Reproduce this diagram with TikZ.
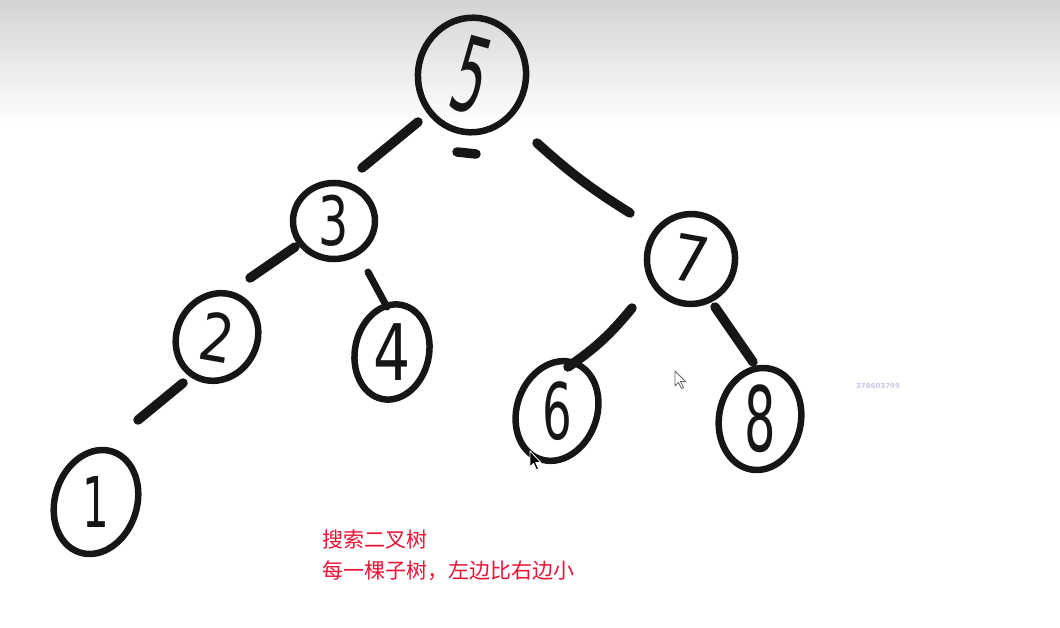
\documentclass[tikz,border=0pt]{standalone}
\usepackage{fontspec}
\setmainfont{DejaVu Sans}
\newfontfamily\cjk{Noto Sans CJK SC}
\usetikzlibrary{shapes.geometric,calc}
\definecolor{inkred}{RGB}{232,18,52}
\definecolor{ink}{RGB}{22,22,22}
\definecolor{wm}{RGB}{200,200,230}
\newcommand{\dg}[4]{\fontsize{#1}{#1}\selectfont\rotatebox{#4}{\scalebox{#2}[1]{#3}}}
\tikzset{
  tnode/.style={ellipse, draw=ink, line width=6.5pt, inner sep=0pt, text=ink},
  edge/.style={draw=ink, line width=9.5pt, line cap=round},
  note/.style={text=inkred, font=\cjk\fontsize{21}{21}\selectfont, anchor=base west, inner sep=0pt},
  cursor/.style={line width=0.8pt, line join=round}
}
\begin{document}
\begin{tikzpicture}[x=1pt,y=-1pt]
\useasboundingbox (0,0) rectangle (1060,628);
\shade[top color=black!17, bottom color=white] (0,0) rectangle (1060,125);

\node[tnode, minimum width=108pt, minimum height=104pt, rotate=-8] (n5) at (472,75) {\dg{104}{0.5}{5}{-8}};
\node[tnode, minimum width=82pt, minimum height=76pt] (n3) at (334,221) {\dg{68}{0.7}{3}{0}};
\node[tnode, minimum width=88pt, minimum height=90pt, rotate=-10] (n7) at (691,259) {\dg{64}{0.9}{7}{0}};
\node[tnode, minimum width=80pt, minimum height=90pt, rotate=-30] (n2) at (217,337) {\dg{66}{0.8}{2}{20}};
\node[tnode, minimum width=74pt, minimum height=96pt, rotate=-12] (n4) at (392,352) {\dg{78}{0.75}{4}{12}};
\node[tnode, minimum width=80pt, minimum height=102pt, rotate=-20] (n6) at (557,411) {\dg{78}{0.6}{6}{20}};
\node[tnode, minimum width=82pt, minimum height=94pt, rotate=-10] (n8) at (760,419) {\dg{90}{0.55}{8}{10}};
\node[tnode, minimum width=82pt, minimum height=106pt, rotate=-18] (n1) at (96,502) {\dg{70}{0.6}{1}{18}};

\draw[edge] ($(n5)+(-54,47)$) -- ($(n3)+(28,-53)$);
\draw[edge] ($(n5)+(-15,77)$) -- ($(n5)+(4,79)$);
\draw[edge] ($(n5)+(65,68)$) to[bend right=5] ($(n7)+(-61,-46)$);
\draw[edge] ($(n3)+(-39,26)$) -- ($(n2)+(33,-59)$);
\draw[edge, line width=7pt] ($(n3)+(34,51)$) -- ($(n4)+(-5,-45)$);
\draw[edge] ($(n2)+(-34,46)$) -- ($(n1)+(42,-82)$);
\draw[edge] ($(n7)+(-59,49)$) to[bend left=8] ($(n6)+(11,-44)$);
\draw[edge] ($(n7)+(24,48)$) -- ($(n8)+(-7,-57)$);

\node[note] (t1) at (322,547) {搜索二叉树};
\node[note] (t2) at (322,578) {每一棵子树，左边比右边小};

\node[text=wm, font=\fontsize{7}{7}\selectfont\bfseries, inner sep=0pt] (wmark) at (878,386) {378603799};

\draw[cursor, draw=black!60, fill=white] (675,371) -- ++(0,15) -- ++(3.5,-3.5) -- ++(3,6) -- ++(2,-1) -- ++(-3,-6) -- ++(5,0) -- cycle;
\draw[cursor, draw=white, fill=black] (530,451) -- ++(0,16) -- ++(3.5,-3.5) -- ++(3,6.5) -- ++(2.2,-1) -- ++(-3,-6.5) -- ++(5.2,0) -- cycle;
\end{tikzpicture}
\end{document}
